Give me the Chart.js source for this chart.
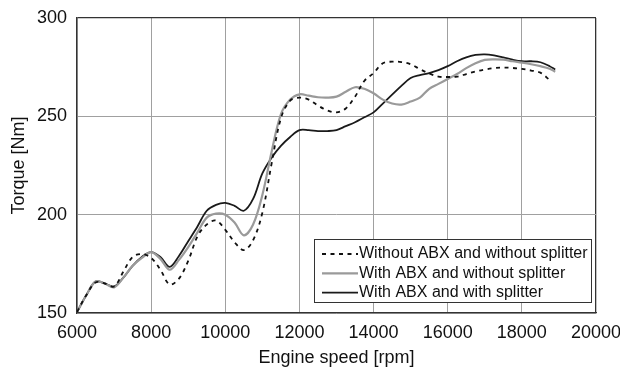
<!DOCTYPE html>
<html>
<head>
<meta charset="utf-8">
<script src="https://cdn.jsdelivr.net/npm/chart.js@4"></script>
<style>
  html, body { margin: 0; padding: 0; background: #fff; }
  #wrap { width: 620px; height: 370px; }
</style>
</head>
<body>
<div id="wrap"><canvas id="torqueChart" width="620" height="370"></canvas></div>
<script>
// engine speed (rpm) shared by all three runs
const rpm = [6000, 6250, 6500, 6750, 7000, 7250, 7500, 7750, 8000, 8250, 8500, 8750,
  9000, 9250, 9500, 9750, 10000, 10250, 10500, 10750, 11000, 11250, 11500, 11750,
  12000, 12250, 12500, 12750, 13000, 13250, 13500, 13750, 14000, 14250, 14500, 14750,
  15000, 15250, 15500, 15750, 16000, 16250, 16500, 16750, 17000, 17250, 17500, 17750,
  18000, 18250, 18500, 18750, 18900];

const noAbxNoSplitter = [150.5, 159, 165.5, 165, 163.5, 171, 178.5, 180, 178, 172, 164.5, 167.5,
  176.5, 189, 195, 197, 192.3, 186, 182, 187, 201, 226, 249, 258,
  259.5, 258.5, 255.5, 253, 252, 254, 260, 268, 272, 277, 277.8, 277.6,
  276.5, 274, 271.8, 270.2, 270, 270.2, 271.5, 272.8, 273.8, 274.5, 274.8, 274.6,
  274.1, 273.3, 272.2, 268.5, null];

const abxNoSplitter = [150.5, 159, 166, 165, 163, 168, 174, 178, 181, 177.5, 172, 177,
  183.5, 191, 198.5, 200.5, 200, 196, 189.5, 195, 210, 232, 251, 258.5,
  261.2, 260.5, 259.7, 259.5, 260, 262.5, 264.8, 264, 261.7, 258.5, 256.5, 256,
  257.5, 259.5, 264, 266.5, 269, 271.5, 274.5, 277, 278.7, 279, 278.8, 278,
  277.3, 276.5, 275.5, 274.2, 272.7];

const abxSplitter = [150.5, 159, 166, 165, 163.5, 168, 174, 178.5, 181, 178.5, 173.5, 179,
  186.5, 194, 202, 205, 206, 204.5, 202, 208, 221, 229, 235, 239.5,
  243, 243, 242.5, 242.5, 243, 245, 247, 249.5, 252, 256.5, 261, 265.5,
  269.5, 271, 272, 273.5, 275.5, 278, 280, 281.2, 281.5, 281, 280, 278.8,
  278, 278, 277.5, 275.5, 273.8];

const seriesNames = ['Without ABX and without splitter', 'With ABX and without splitter', 'With ABX and with splitter'];

const toPoints = vals => rpm.map((x, i) => ({ x: x, y: vals[i] }));

const FONT = 'Liberation Sans, Arial, sans-serif';

// boxed legend sitting inside the plot, bottom right
const boxLegend = {
  id: 'boxLegend',
  afterDraw(chart) {
    const ctx = chart.ctx;
    const left = 314, top = 239, w = 277, h = 63;
    ctx.save();
    ctx.fillStyle = '#fff';
    ctx.fillRect(left, top, w, h);
    ctx.strokeStyle = '#333';
    ctx.lineWidth = 1;
    ctx.strokeRect(left + 0.5, top + 0.5, w, h);
    ctx.font = '16px ' + FONT;
    ctx.textBaseline = 'middle';
    ctx.fillStyle = '#111';
    chart.data.datasets.forEach((ds, i) => {
      const y = top + 15 + i * 19.3;
      ctx.beginPath();
      ctx.strokeStyle = ds.borderColor;
      ctx.lineWidth = ds.borderWidth;
      ctx.setLineDash(ds.borderDash || []);
      ctx.moveTo(322, y);
      ctx.lineTo(358, y);
      ctx.stroke();
      ctx.setLineDash([]);
      ctx.fillText(ds.label, 359, y);
    });
    ctx.restore();
  }
};

const ctx = document.getElementById('torqueChart').getContext('2d');
new Chart(ctx, {
  type: 'line',
  data: {
    datasets: [
      { label: seriesNames[0], data: toPoints(noAbxNoSplitter), borderColor: '#111', borderWidth: 1.8, borderDash: [4, 4.5] },
      { label: seriesNames[1], data: toPoints(abxNoSplitter), borderColor: '#9a9a9a', borderWidth: 2.2 },
      { label: seriesNames[2], data: toPoints(abxSplitter), borderColor: '#1a1a1a', borderWidth: 1.8 }
    ]
  },
  options: {
    responsive: false,
    animation: false,
    layout: { padding: { top: 18, right: 24, left: 0, bottom: 0 } },
    elements: {
      point: { radius: 0 },
      line: { tension: 0.35, fill: false }
    },
    plugins: {
      legend: { display: false },
      tooltip: { enabled: false }
    },
    scales: {
      x: {
        type: 'linear',
        min: 6000, max: 20000,
        afterFit: s => { s.height = 57; s.paddingLeft = 0; s.paddingRight = 0; },
        ticks: { stepSize: 2000, padding: 9, color: '#111', font: { family: FONT, size: 18 }, callback: v => String(v) },
        grid: {
          drawTicks: false,
          color: c => c.tick && c.tick.value === 20000 ? '#333' : '#a0a0a0',
          lineWidth: c => c.tick && c.tick.value === 20000 ? 1.3 : 1
        },
        border: { color: '#333', width: 1.3 },
        title: { display: true, text: 'Engine speed [rpm]', color: '#111', font: { family: FONT, size: 18 }, padding: { top: 0, bottom: 1 } }
      },
      y: {
        min: 150, max: 300,
        afterFit: s => { s.width = 77; s.paddingTop = 0; s.paddingBottom = 0; },
        ticks: { stepSize: 50, padding: 10, color: '#111', font: { family: FONT, size: 18 }, callback: v => String(v) },
        grid: {
          drawTicks: false,
          color: c => c.tick && c.tick.value === 300 ? '#333' : '#a0a0a0',
          lineWidth: c => c.tick && c.tick.value === 300 ? 1.3 : 1
        },
        border: { color: '#333', width: 1.3 },
        title: { display: true, text: 'Torque [Nm]', color: '#111', font: { family: FONT, size: 18 }, padding: { top: 8, bottom: 0 } }
      }
    }
  },
  plugins: [boxLegend]
});
</script>
</body>
</html>
